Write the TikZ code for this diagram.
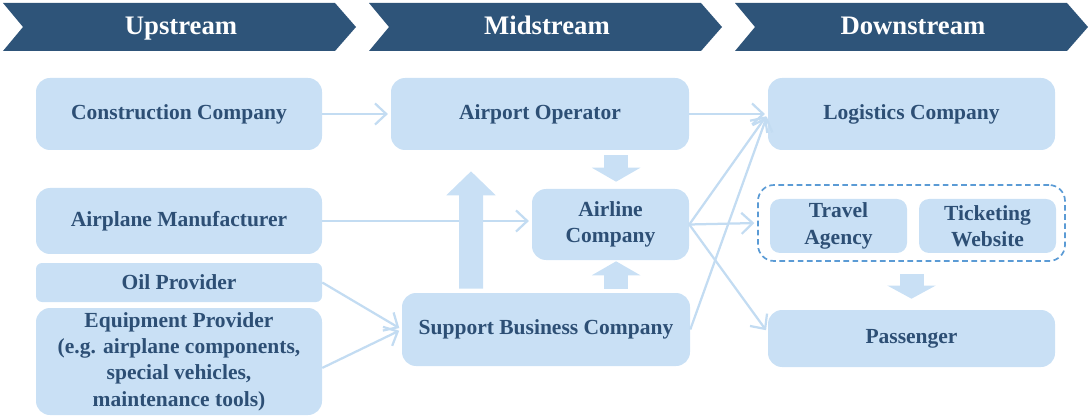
\documentclass[tikz,border=0pt]{standalone}
\usepackage{fontspec}
\setmainfont{Liberation Serif}
\usepackage{xcolor}
\usetikzlibrary{arrows.meta,calc}
\definecolor{headblue}{HTML}{2E5479}
\definecolor{boxblue}{HTML}{C9E0F5}
\definecolor{textblue}{HTML}{2D4F75}
\definecolor{lineblue}{HTML}{C3DCF2}
\definecolor{dashblue}{HTML}{5B9BD5}

\begin{document}
\begin{tikzpicture}[
    box/.style={fill=boxblue,rounded corners=0.35cm,text=textblue,align=center,inner sep=0pt,
        font=\fontsize{15.3}{18.8}\selectfont\bfseries},
    head/.style={text=white,anchor=base,font=\fontsize{19}{22}\selectfont\bfseries},
    link/.style={draw=lineblue,line width=1.6pt,shorten >=2pt,-{Straight Barb[length=8pt,width=15pt]}},
    fatarrow/.style={draw=boxblue,line width=0.6cm,-{Triangle[width=1.2cm,length=#1]}},
    ]
    \useasboundingbox (0,0) rectangle (27.2,-10.4);
    % header
    \foreach \x/\name/\txt in {0.075/up/Upstream,9.225/mid/Midstream,18.375/down/Downstream}{
        \fill[headblue] (\x,-0.075) -- ++(8.3,0) -- ++(0.525,-0.6) -- ++(-0.525,-0.6)
            -- ++(-8.3,0) -- ++(0.5,0.6) -- cycle;
        \node[head] (\name) at (\x+4.45,-0.87) {\txt};
    }

    % upstream
    \node[box,minimum width=7.15cm,minimum height=1.8cm] (construct) at (4.475,-2.85) {Construction Company};
    \node[box,minimum width=7.15cm,minimum height=1.65cm] (manuf) at (4.475,-5.525) {Airplane Manufacturer};
    \node[box,minimum width=7.15cm,minimum height=0.975cm,rounded corners=0.15cm] (oil) at (4.475,-7.0625) {Oil Provider};
    \node[box,minimum width=7.15cm,minimum height=2.675cm] (equip) at (4.475,-9.0375)
        {Equipment Provider\\(e.g. airplane components,\\special vehicles,\\maintenance tools)};

    % midstream
    \node[box,minimum width=7.45cm,minimum height=1.8cm] (airport) at (13.5,-2.85) {Airport Operator};
    \node[box,minimum width=3.925cm,minimum height=1.775cm] (airline) at (15.2625,-5.6125) {Airline\\Company};
    \node[box,minimum width=7.2cm,minimum height=1.825cm] (support) at (13.65,-8.2375) {Support Business Company};

    % downstream
    \node[box,minimum width=7.175cm,minimum height=1.8cm] (logistics) at (22.7875,-2.85) {Logistics Company};
    \node[draw=dashblue,line width=1.2pt,dash pattern=on 4pt off 2.5pt,rounded corners=0.4cm,
        minimum width=7.675cm,minimum height=1.9cm] (group) at (22.7875,-5.575) {};
    \node[box,minimum width=3.425cm,minimum height=1.35cm,rounded corners=0.25cm] (travel) at (20.9625,-5.65) {Travel\\Agency};
    \node[box,minimum width=3.425cm,minimum height=1.35cm,rounded corners=0.25cm] (ticket) at (24.6875,-5.65) {Ticketing\\Website};
    \node[box,minimum width=7.175cm,minimum height=1.425cm] (passenger) at (22.7875,-8.4625) {Passenger};

    \draw[link] (construct.east) -- (airport.west);
    \draw[link] (manuf.east) -- (manuf.east -| airline.west);
    \draw[link] (oil.east) -- (support.west);
    \draw[link] ([yshift=-0.16cm]equip.east) -- (support.west);
    \draw[link] (airport.east) -- (logistics.west);
    \draw[link] (airline.east) -- (logistics.west);
    \draw[link] (airline.east) -- (group.west);
    \draw[link] (airline.east) -- ([yshift=0.15cm]passenger.west);
    \draw[link] (support.east) -- (logistics.west);

    \draw[fatarrow=0.35cm] ($(airline.north |- airport.south)+(0.14,-0.125)$) -- ($(airline.north)+(0.14,0.175)$);
    \draw[fatarrow=0.35cm] ($(airline.south |- support.north)+(0.14,0.1)$) -- ($(airline.south)+(0.14,-0.025)$);
    \draw[fatarrow=0.6cm] ($(support.north)+(-1.875,0.1)$) -- ($(airport.south)+(-1.725,-0.525)$);
    \draw[fatarrow=0.33cm] ($(group.south)+(0,-0.3)$) -- ($(passenger.north)+(0,0.275)$);
\end{tikzpicture}
\end{document}
